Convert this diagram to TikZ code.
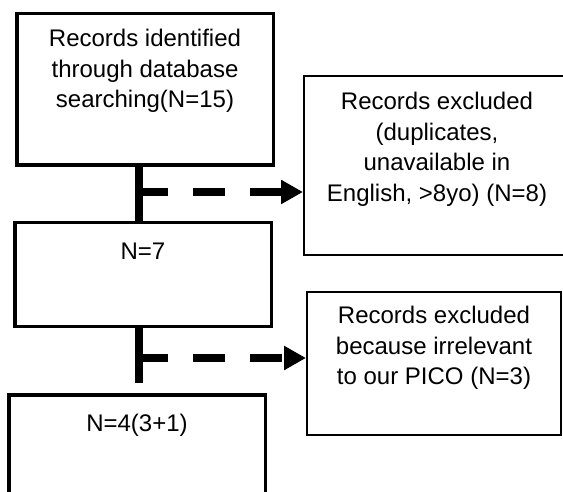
\documentclass[tikz,border=0pt]{standalone}
\usepackage{fontspec}
\setmainfont{Liberation Sans}
\usepackage{tikz}
\usetikzlibrary{arrows.meta}

\begin{document}
\begin{tikzpicture}[x=1pt,y=-1pt,
  mainbox/.style={draw,line width=3.5pt,minimum width=256.5pt,inner sep=0pt},
  exclbox/.style={draw,line width=2pt,inner sep=0pt},
  boxtext/.style={anchor=north,align=center,inner sep=0pt,
    font=\fontsize{24}{30.5}\selectfont},
  flow/.style={line width=8pt},
  dashflow/.style={line width=8pt,dash pattern=on 32pt off 25pt,dash phase=3pt,
    -{Triangle[length=22pt,width=23pt]}}]
\useasboundingbox (0,0) rectangle (563,492);
\clip (0,0) rectangle (563,492);
% left column
\node[mainbox,minimum height=151.5pt,
  label={[boxtext,yshift=-17pt]north:Records identified\\through database\\searching(N=15)}]
  (ident) at (145,89.5) {};
\node[mainbox,minimum height=103.5pt,
  label={[boxtext,yshift=-22pt]north:N=7}]
  (screen) at (143,274.5) {};
\node[mainbox,minimum height=125pt,
  label={[boxtext,yshift=-21pt]north:N=4(3+1)}]
  (incl) at (137,457.4) {};
% right column
\node[exclbox,minimum width=266pt,minimum height=179pt,
  label={[boxtext,yshift=-17pt]north:Records excluded\\(duplicates,\\unavailable in\\English, >8yo) (N=8)}]
  (excla) at (437,165.5) {};
\node[exclbox,minimum width=254pt,minimum height=143pt,
  label={[boxtext,yshift=-15pt]north:Records excluded\\because irrelevant\\to our PICO (N=3)}]
  (exclb) at (434,363.5) {};
% connectors
\coordinate (splita) at (139,192);
\coordinate (splitb) at (139,358);
\coordinate (stub) at (139,383);
\draw[flow] (ident.south -| splita) -- (screen.north -| splita);
\draw[flow] (screen.south -| splitb) -- (stub);
\draw[dashflow] (splita) -- (splita -| excla.west);
\draw[dashflow] (splitb) -- (splitb -| exclb.west);
\end{tikzpicture}
\end{document}
